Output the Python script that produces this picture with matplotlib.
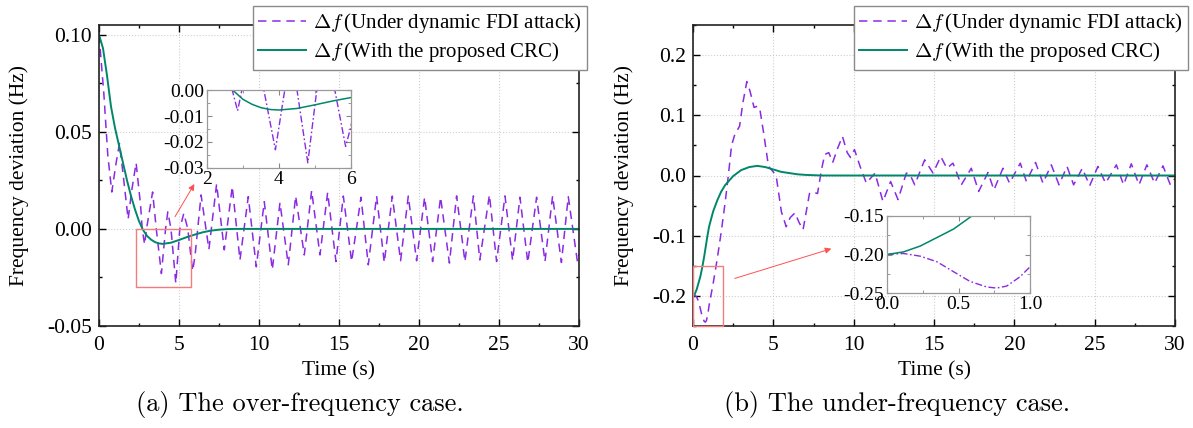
import matplotlib
matplotlib.use("Agg")
import matplotlib.pyplot as plt
from matplotlib.ticker import MultipleLocator, FormatStrFormatter
from matplotlib.patches import Rectangle

plt.rcParams['font.family'] = ['Liberation Serif', 'DejaVu Serif']
plt.rcParams['mathtext.fontset'] = 'cm'
plt.rcParams['axes.unicode_minus'] = False

# ---------------- data ----------------
# (a) over-frequency case
a_crc_t = [0, 0.25, 0.5, 0.75, 1.0, 1.25, 1.5, 1.75, 2.0, 2.25, 2.5, 2.75, 3.0, 3.25, 3.5,
           3.75, 4.0, 4.5, 5.0, 5.5, 6.0, 6.5, 7.0, 7.5, 8.0, 8.5, 30]
a_crc_v = [0.100, 0.093, 0.079, 0.063, 0.052, 0.043, 0.034, 0.025, 0.017, 0.010, 0.004, -0.0005,
           -0.0036, -0.0055, -0.0068, -0.0075, -0.0077, -0.0071, -0.0057, -0.0042, -0.0029,
           -0.0017, -0.0009, -0.0004, -0.0001, 0.0, 0.0]

a_fdi_t = [0.0, 0.3, 0.55, 0.8, 1.05, 1.28, 1.55, 1.82, 2.05, 2.32, 2.6, 2.70, 2.85, 2.97, 3.35,
           3.58, 3.90, 4.16, 4.30, 4.50, 4.80, 5.05, 5.30, 5.55, 5.85, 6.0, 6.38, 6.87, 7.35,
           7.83, 8.33, 8.81, 9.33, 9.83, 10.33, 10.83, 11.31, 11.83, 12.29, 12.83, 13.29, 13.81,
           14.29, 14.81, 15.27, 15.79, 16.375, 16.83, 17.35, 17.83, 18.33, 18.85, 19.33, 19.85,
           20.35, 20.85, 21.35, 21.9, 22.35, 22.87, 23.4, 23.8, 24.4, 24.85, 25.375, 25.85,
           26.31, 26.8, 27.35, 27.875, 28.35, 28.9, 29.33, 29.9, 30.0]
a_fdi_v = [0.100, 0.070, 0.038, 0.019, 0.033, 0.044, 0.025, 0.005, 0.020, 0.034, 0.012, 0.0,
           -0.008, 0.0, 0.019, 0.0, -0.023, 0.0, 0.0088, 0.0, -0.028, 0.0, 0.008, 0.0, -0.0217,
           -0.014, 0.0175, -0.0105, 0.0231, -0.0108, 0.0218, -0.016, 0.0166, -0.0195, 0.014,
           -0.021, 0.0135, -0.0185, 0.0169, -0.0134, 0.0197, -0.0134, 0.0187, -0.0168, 0.0169,
           -0.0168, 0.0163, -0.0185, 0.0169, -0.0173, 0.0169, -0.0164, 0.0169, -0.0164, 0.0163,
           -0.0168, 0.0163, -0.0176, 0.017, -0.0168, 0.017, -0.016, 0.0175, -0.0168, 0.017,
           -0.0163, 0.0163, -0.0173, 0.0163, -0.0168, 0.017, -0.0173, 0.0166, -0.0168, -0.013]

# (b) under-frequency case
b_crc_t = [0, 0.116, 0.233, 0.349, 0.465, 0.593, 0.7, 0.8, 0.9, 1.0, 1.25, 1.5, 1.75, 2.0, 2.5,
           3.0, 3.5, 4.0, 4.5, 5.0, 5.5, 6.0, 6.5, 7.0, 8.0, 30]
b_crc_v = [-0.200, -0.1966, -0.189, -0.178, -0.167, -0.150, -0.134, -0.117, -0.100, -0.085,
           -0.060, -0.042, -0.027, -0.016, -0.001, 0.009, 0.014, 0.016, 0.014, 0.010, 0.006,
           0.004, 0.002, 0.001, 0.0, 0.0]

b_fdi_t = [0.0, 0.116, 0.233, 0.349, 0.465, 0.581, 0.698, 0.767, 0.837, 0.93, 1.0, 1.25, 1.5,
           1.75, 2.0, 2.2, 2.4, 2.6, 2.9, 3.1, 3.35, 3.55, 3.8, 4.0, 4.15, 4.4, 4.7, 5.0, 5.2,
           5.5, 5.8, 6.05, 6.35, 6.6, 6.85, 7.05, 7.25, 7.45, 7.75, 8.0, 8.2, 8.45, 8.7, 9.0,
           9.3, 9.6, 9.8, 10.05, 10.4, 10.79, 11.33, 11.82, 12.3, 12.76, 13.28, 13.5, 13.8,
           14.42, 14.94, 15.42, 15.8, 16.18, 16.7, 17.32, 17.78, 18.36, 18.73, 19.29, 19.7,
           20.37, 20.75, 21.32, 21.78, 22.3, 22.78, 23.28, 23.69, 24.23, 24.69, 25.2, 25.68,
           26.35, 26.8, 27.28, 27.76, 28.25, 28.73, 29.25, 29.71, 30.0]
b_fdi_v = [-0.200, -0.1987, -0.2022, -0.2094, -0.2223, -0.235, -0.2422, -0.2436, -0.241,
           -0.229, -0.216, -0.180, -0.140, -0.095, -0.045, 0.0, 0.050, 0.068, 0.082, 0.120,
           0.156, 0.140, 0.113, 0.115, 0.112, 0.070, 0.015, 0.006, -0.005, -0.060, -0.085,
           -0.070, -0.062, -0.078, -0.090, -0.060, -0.030, -0.027, -0.030, 0.010, 0.035, 0.038,
           0.022, 0.045, 0.065, 0.038, 0.030, 0.043, 0.015, -0.0127, 0.004, -0.043, -0.010,
           -0.040, 0.004, 0.002, -0.0155, 0.026, 0.004, 0.0315, 0.012, 0.0205, -0.0155, 0.012,
           -0.0265, 0.005, -0.024, 0.012, -0.0127, 0.0205, -0.010, 0.0216, -0.0127, 0.0177,
           -0.0155, 0.015, -0.0155, 0.012, -0.017, 0.015, -0.0127, 0.0177, -0.0155, 0.0194,
           -0.0155, 0.0177, -0.0127, 0.016, -0.0155, -0.005]

label_fdi = r'$\Delta f\,$(Under dynamic FDI attack)'
label_crc = r'$\Delta f\,$(With the proposed CRC)'
captions = ['(a) The over-frequency case.', '(b) The under-frequency case.']

# ---------------- style ----------------
PURPLE = '#8A2BE2'
GREEN = '#00876A'
RED = '#F47C7C'
W, H = 1193, 428

fig = plt.figure(figsize=(W / 100, H / 100), dpi=100)


def fr(x0, y0, x1, y1):
    return [x0 / W, 1 - y1 / H, (x1 - x0) / W, (y1 - y0) / H]


def style_main(ax, ymaj, ymin, yfmt):
    ax.set_xlim(0, 30)
    ax.xaxis.set_major_locator(MultipleLocator(5))
    ax.xaxis.set_minor_locator(MultipleLocator(2.5))
    ax.yaxis.set_major_locator(MultipleLocator(ymaj))
    ax.yaxis.set_minor_locator(MultipleLocator(ymin))
    ax.yaxis.set_major_formatter(FormatStrFormatter(yfmt))
    ax.xaxis.set_major_formatter(FormatStrFormatter('%d'))
    ax.tick_params(which='both', direction='in', top=True, right=True, labelsize=15.5, width=1.0)
    ax.tick_params(which='major', length=5)
    ax.tick_params(which='minor', length=2.5)
    ax.tick_params(axis='x', which='major', pad=7.5)
    ax.tick_params(axis='y', which='major', pad=5)
    for s in ax.spines.values():
        s.set_linewidth(1.2)
        s.set_color('#222222')
    ax.grid(True, which='major', linestyle=':', color='#cfcfcf', linewidth=0.8)
    ax.set_axisbelow(True)
    ax.set_xlabel('Time (s)', fontsize=15.5, labelpad=4)
    ax.set_ylabel('Frequency deviation (Hz)', fontsize=15.5, labelpad=13)


def style_inset(ax):
    ax.tick_params(which='both', direction='in', top=True, right=True, labelsize=14,
                   color='#888888', pad=2)
    ax.tick_params(which='major', length=3.5)
    ax.tick_params(which='minor', length=2)
    for s in ax.spines.values():
        s.set_linewidth(0.9)
        s.set_color('#999999')


panels = [
    dict(pos=fr(99, 25, 579, 326), ylim=(-0.05, 0.105), ymaj=0.05, ymin=0.025, yfmt='%.2f',
         crc=(a_crc_t, a_crc_v), fdi=(a_fdi_t, a_fdi_v),
         ins=fr(207, 90, 351, 168), ixlim=(2, 6), iylim=(-0.03, 0.0), ixmaj=2, ixmin=1,
         iymaj=0.01, iymin=0.005, ixfmt='%d', iyfmt='%.2f',
         rect=(2.33, -0.03, 3.42, 0.03), arrow=((4.75, 0.0063), (5.96, 0.0231)),
         leg=(587, 6), cap=(300, 405)),
    dict(pos=fr(693, 25, 1175, 326), ylim=(-0.25, 0.25), ymaj=0.1, ymin=0.05, yfmt='%.1f',
         crc=(b_crc_t, b_crc_v), fdi=(b_fdi_t, b_fdi_v),
         ins=fr(887, 216, 1030, 293), ixlim=(0, 1), iylim=(-0.25, -0.15), ixmaj=0.5, ixmin=0.25,
         iymaj=0.05, iymin=0.025, ixfmt='%.1f', iyfmt='%.2f',
         rect=(0.0, -0.25, 1.87, 0.1), arrow=((2.6, -0.171), (8.61, -0.1216)),
         leg=(1188, 6), cap=(897, 405)),
]

for i, p in enumerate(panels):
    ax = fig.add_axes(p['pos'])
    l1, = ax.plot(p['fdi'][0], p['fdi'][1], color=PURPLE, lw=1.1, dashes=(5.5, 3.8),
                  label=label_fdi)
    l2, = ax.plot(p['crc'][0], p['crc'][1], color=GREEN, lw=1.4, label=label_crc)
    ax.set_ylim(*p['ylim'])
    style_main(ax, p['ymaj'], p['ymin'], p['yfmt'])
    x, y, w, h = p['rect']
    ax.add_patch(Rectangle((x, y), w, h, fill=False, edgecolor=RED, lw=1.0, zorder=5,
                           clip_on=False))
    (sx, sy), (ex, ey) = p['arrow']
    ax.annotate('', xy=(ex, ey), xytext=(sx, sy),
                arrowprops=dict(arrowstyle='-|>', color='#FF5050', lw=0.7,
                                mutation_scale=9, shrinkA=0, shrinkB=0), zorder=6)
    lx, ly = p['leg']
    fig.legend(handles=[l1, l2], loc='upper right', bbox_to_anchor=(lx / W, 1 - ly / H),
               bbox_transform=fig.transFigure, fontsize=15, frameon=True, fancybox=False,
               framealpha=1, edgecolor='#8a8a8a', borderpad=0.25, labelspacing=0.25,
               handlelength=2.3, handletextpad=0.35, borderaxespad=0)

    ia = fig.add_axes(p['ins'])
    ia.plot(p['fdi'][0], p['fdi'][1], color=PURPLE, lw=1.0, dashes=(5, 1.8, 1.2, 1.8))
    ia.plot(p['crc'][0], p['crc'][1], color=GREEN, lw=1.1)
    ia.set_xlim(*p['ixlim'])
    ia.set_ylim(*p['iylim'])
    ia.xaxis.set_major_locator(MultipleLocator(p['ixmaj']))
    ia.xaxis.set_minor_locator(MultipleLocator(p['ixmin']))
    ia.yaxis.set_major_locator(MultipleLocator(p['iymaj']))
    ia.yaxis.set_minor_locator(MultipleLocator(p['iymin']))
    ia.xaxis.set_major_formatter(FormatStrFormatter(p['ixfmt']))
    ia.yaxis.set_major_formatter(FormatStrFormatter(p['iyfmt']))
    style_inset(ia)

    cx, cy = p['cap']
    fig.text(cx / W, 1 - cy / H, captions[i], ha='center', va='center', fontsize=19,
             family='cmr10')

fig.savefig('out.png', dpi=100)
